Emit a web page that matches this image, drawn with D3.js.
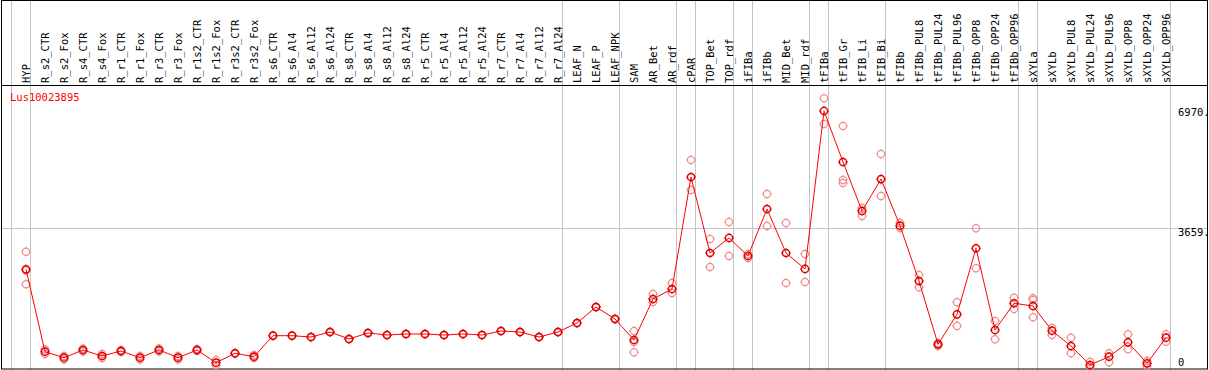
<!DOCTYPE html>
<html>
<head>
<meta charset="utf-8">
<script src="https://cdn.jsdelivr.net/npm/d3@7"></script>
<style>
  body { margin: 0; background: #fff; }
  svg { display: block; }
  text { font-family: "DejaVu Sans Mono", "Liberation Mono", monospace; }
</style>
</head>
<body>
<div id="chart"></div>
<script>
var categories = ["HYP", "R_s2_CTR", "R_s2_Fox", "R_s4_CTR", "R_s4_Fox", "R_r1_CTR", "R_r1_Fox",
  "R_r3_CTR", "R_r3_Fox", "R_r1s2_CTR", "R_r1s2_Fox", "R_r3s2_CTR", "R_r3s2_Fox", "R_s6_CTR",
  "R_s6_Al4", "R_s6_Al12", "R_s6_Al24", "R_s8_CTR", "R_s8_Al4", "R_s8_Al12", "R_s8_Al24",
  "R_r5_CTR", "R_r5_Al4", "R_r5_Al12", "R_r5_Al24", "R_r7_CTR", "R_r7_Al4", "R_r7_Al12",
  "R_r7_Al24", "LEAF_N", "LEAF_P", "LEAF_NPK", "SAM", "AR_Bet", "AR_rdf", "cPAR", "TOP_Bet",
  "TOP_rdf", "iFIBa", "iFIBb", "MID_Bet", "MID_rdf", "tFIBa", "tFIB_Gr", "tFIB_Li", "tFIB_Bi",
  "tFIBb", "tFIBb_PUL8", "tFIBb_PUL24", "tFIBb_PUL96", "tFIBb_OPP8", "tFIBb_OPP24",
  "tFIBb_OPP96", "sXYLa", "sXYLb", "sXYLb_PUL8", "sXYLb_PUL24", "sXYLb_PUL96", "sXYLb_OPP8",
  "sXYLb_OPP24", "sXYLb_OPP96"];

var meanValues = [2526, 249, 83, 296, 130, 268, 83, 296, 83, 296, -55, 205, 111, 691,
  691, 655, 793, 600, 766, 710, 738, 738, 710, 738, 710, 821, 793, 655,
  793, 1042, 1484, 1153, 572, 1705, 1982, 5076, 2977, 3392, 2894, 4193, 2977, 2535,
  6902, 5492, 4138, 5020, 3731, 2203, 453, 1282, 3107, 849, 1587, 1512, 829,
  406, -119, 111, 509, -72, 636];

var replicates = [
  [3013, 2493, 2112], [310, 185], [130, 33], [337, 254], [185, 75], [296, 240], [130, 33],
  [337, 254], [130, 33], [323, 268], [19, -119], [215, 195], [158, 75], [700, 682],
  [700, 682], [665, 645], [803, 783], [610, 590], [776, 756], [720, 700], [748, 728],
  [748, 728], [720, 700], [748, 728], [720, 700], [831, 811], [803, 783], [665, 645],
  [803, 783], [1052, 1032], [1494, 1474], [1163, 1143], [821, 517, 232], [1844, 1623],
  [2148, 1871], [5547, 4718], [3364, 2590], [3834, 2894], [2949, 2839], [4608, 3723],
  [3806, 2148], [2949, 2175], [7253, 6543], [6487, 4995, 4912], [4221, 3999], [5713, 4552],
  [3806, 3668], [2369, 2029], [489, 406], [1614, 959], [3660, 2554], [1097, 592],
  [1741, 1429], [1725, 1678, 1200], [904, 710], [636, 205], [-36, -174], [205, -44],
  [730, 315], [-8, -146], [730, 525]];

var seriesName = "Lus10023895";
var tickValues = [0, 3659, 6970];
var tickLabels = ["0", "3659.", "6970."];
// columns that start a new group (last one = right end)
var groupStarts = [0, 1, 29, 32, 35, 36, 38, 39, 42, 43, 46, 53, 54, 61];

var svgWidth = 1209;
var svgHeight = 370;
var colWidth = 19;
var plotLeft = 11;
var headerBottom = 85;

var svg = d3.select("#chart")
  .append("svg")
  .attr("width", svgWidth)
  .attr("height", svgHeight);

var x = d3.scaleBand()
  .domain(categories)
  .range([plotLeft, plotLeft + categories.length * colWidth]);

var y = d3.scaleLinear()
  .domain([0, 6970])
  .range([360.7, 108.5]);

var px = function (c) { return x(c) + 15; };

// group separators
svg.append("g")
  .selectAll("line")
  .data(groupStarts)
  .enter()
  .append("line")
  .attr("x1", d => plotLeft + d * colWidth + 0.5)
  .attr("x2", d => plotLeft + d * colWidth + 0.5)
  .attr("y1", 0)
  .attr("y2", svgHeight)
  .attr("stroke", "#c4c4c4")
  .attr("stroke-width", 1);

// gridline at middle tick
svg.append("line")
  .attr("x1", 1)
  .attr("x2", 1207)
  .attr("y1", Math.round(y(3659)) + 0.5)
  .attr("y2", Math.round(y(3659)) + 0.5)
  .attr("stroke", "#c4c4c4");

// frame
svg.append("rect")
  .attr("x", 1.5)
  .attr("y", 0.5)
  .attr("width", 1206)
  .attr("height", 368.5)
  .attr("fill", "none")
  .attr("stroke", "#000");

svg.append("line")
  .attr("x1", 1)
  .attr("x2", 1207)
  .attr("y1", headerBottom + 0.5)
  .attr("y2", headerBottom + 0.5)
  .attr("stroke", "#000");

// rotated category labels
svg.append("g")
  .selectAll("text")
  .data(categories)
  .enter()
  .append("text")
  .attr("transform", d => `translate(${x(d) + 18.5}, 83) rotate(-90)`)
  .style("font-size", "10.5px")
  .attr("fill", "#000")
  .text(d => d);

// right side value labels
svg.append("g")
  .selectAll("text")
  .data(tickValues)
  .enter()
  .append("text")
  .attr("x", 1178)
  .attr("y", (d, i) => (d === 0 ? y(d) - 2 : y(d)) + 7.5)
  .style("font-size", "10.5px")
  .attr("fill", "#000")
  .text((d, i) => tickLabels[i]);

svg.append("text")
  .attr("x", 10)
  .attr("y", 101)
  .style("font-size", "10.5px")
  .attr("fill", "#ff0000")
  .text(seriesName);

function marker(g, cx, cy, color, w) {
  g.append("circle")
    .attr("cx", cx)
    .attr("cy", cy)
    .attr("r", 3.6)
    .attr("fill", "none")
    .attr("stroke", color)
    .attr("stroke-width", w);
  [[0, -1], [0, 1], [-1, 0], [1, 0]].forEach(function (o) {
    g.append("line")
      .attr("x1", cx + o[0] * 3.6)
      .attr("y1", cy + o[1] * 3.6)
      .attr("x2", cx + o[0] * 4.8)
      .attr("y2", cy + o[1] * 4.8)
      .attr("stroke", color)
      .attr("stroke-width", 1);
  });
}

var repGroup = svg.append("g");
categories.forEach(function (c, i) {
  replicates[i].forEach(function (v) {
    marker(repGroup, px(c), y(v), "#f08c8c", 1.2);
  });
});

var line = d3.line()
  .x((d, i) => px(categories[i]))
  .y(d => y(d));

svg.append("path")
  .datum(meanValues)
  .attr("d", line)
  .attr("fill", "none")
  .attr("stroke", "#ff0000")
  .attr("stroke-width", 1);

var meanGroup = svg.append("g");
categories.forEach(function (c, i) {
  marker(meanGroup, px(c), y(meanValues[i]), "#e00000", 1.5);
});
</script>
</body>
</html>
